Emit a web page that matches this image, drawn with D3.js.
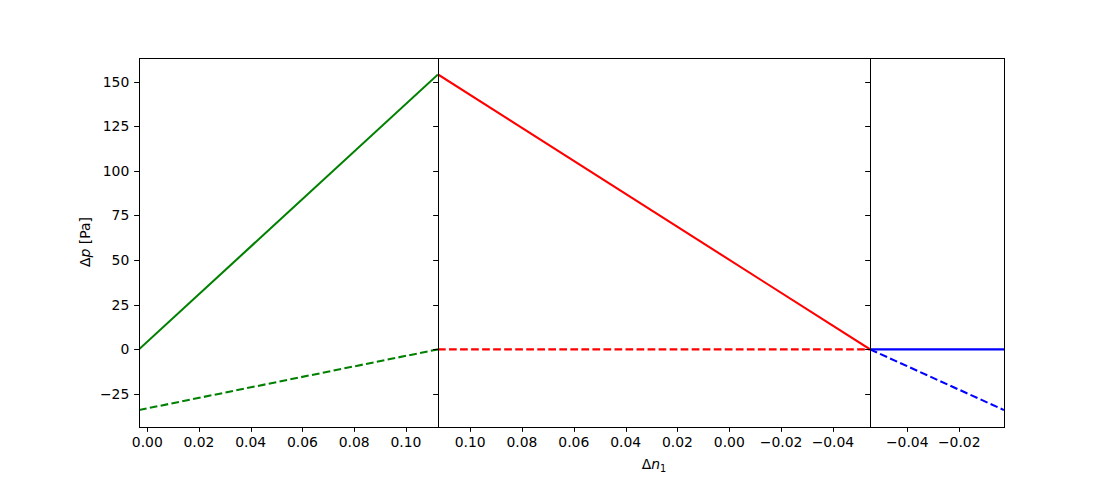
<!DOCTYPE html>
<html><head><meta charset="utf-8">
<script src="https://cdn.jsdelivr.net/npm/d3@7"></script>
<style>body{margin:0;background:#fff}svg{display:block}text{font-family:"DejaVu Sans",sans-serif;}</style>
</head><body>
<svg id="c" width="1115" height="480"></svg>
<script>
// ---- data ----
const yTicks = [-25, 0, 25, 50, 75, 100, 125, 150];
const yDomain = [-43.5, 163.2];

const panel1Domain = [-0.0032, 0.1124];
const panel2Domain = [0.1124, -0.0543];
const panel3Domain = [-0.0543, -0.0028];

const panel1Ticks = [0.00, 0.02, 0.04, 0.06, 0.08, 0.10];
const panel2Ticks = [0.10, 0.08, 0.06, 0.04, 0.02, 0.00, -0.02, -0.04];
const panel3Ticks = [-0.04, -0.02];

const greenX = [-0.0032, 0.1124];
const greenSolid = [0, 154];
const greenDashed = [-34, 0];

const redX = [0.1124, -0.0543];
const redSolid = [154, 0];
const redDashed = [0, 0];

const blueX = [-0.0543, -0.0028];
const blueSolid = [0, 0];
const blueDashed = [0, -34];

// ---- layout ----
const svg = d3.select("#c");
const plotTop = 58, plotBottom = 427;
const bounds = [[139, 438], [438, 870], [870, 1004]];
const y = d3.scaleLinear().domain(yDomain).range([plotBottom, plotTop]);
const fmt = d => d3.format(".2f")(d).replace("-", "\u2212");

const panels = [
  {dom: panel1Domain, ticks: panel1Ticks, series: [[greenX, greenSolid, "#008000", false], [greenX, greenDashed, "#008000", true]], ylabels: true},
  {dom: panel2Domain, ticks: panel2Ticks, series: [[redX, redSolid, "#ff0000", false], [redX, redDashed, "#ff0000", true]], ylabels: false},
  {dom: panel3Domain, ticks: panel3Ticks, series: [[blueX, blueSolid, "#0000ff", false], [blueX, blueDashed, "#0000ff", true]], ylabels: false}
];

const tickLen = 4.86, pad = 4.86, fs = 13.9;

panels.forEach((p, i) => {
  const [x0, x1] = bounds[i];
  const x = d3.scaleLinear().domain(p.dom).range([x0, x1]);
  const g = svg.append("g");
  const cid = "clip" + i;
  svg.append("defs").append("clipPath").attr("id", cid)
    .append("rect").attr("x", x0).attr("y", plotTop).attr("width", x1 - x0).attr("height", plotBottom - plotTop);
  const lg = g.append("g").attr("clip-path", `url(#${cid})`);
  p.series.forEach(([xs, ys, col, dashed]) => {
    const pts = xs.map((v, k) => [x(v), y(ys[k])]);
    lg.append("path").attr("d", d3.line()(pts)).attr("fill", "none")
      .attr("stroke", col).attr("stroke-width", 2.08)
      .attr("stroke-dasharray", dashed ? "7.7,3.33" : null);
  });
  g.append("rect").attr("x", x0 + 0.5).attr("y", plotTop + 0.5).attr("width", x1 - x0).attr("height", plotBottom - plotTop)
    .attr("fill", "none").attr("stroke", "#000").attr("stroke-width", 1);
  p.ticks.forEach(t => {
    const xx = Math.round(x(t)) + 0.5;
    g.append("line").attr("x1", xx).attr("x2", xx).attr("y1", plotBottom).attr("y2", plotBottom + tickLen)
      .attr("stroke", "#000").attr("stroke-width", 1);
    g.append("text").attr("x", x(t)).attr("y", plotBottom + tickLen + pad + fs * 0.76)
      .attr("text-anchor", "middle").attr("font-size", fs).text(fmt(t));
  });
  yTicks.forEach(t => {
    const yy = Math.round(y(t)) + 0.5;
    g.append("line").attr("x1", x0 - tickLen).attr("x2", x0).attr("y1", yy).attr("y2", yy)
      .attr("stroke", "#000").attr("stroke-width", 1);
    if (p.ylabels) {
      g.append("text").attr("x", x0 - tickLen - pad).attr("y", y(t)).attr("dy", "0.36em")
        .attr("text-anchor", "end").attr("font-size", fs).text(String(t).replace("-", "\u2212"));
    }
  });
});

const yl = svg.append("text").attr("transform", "translate(90,242) rotate(-90)")
  .attr("text-anchor", "middle").attr("font-size", fs);
yl.append("tspan").text("\u0394");
yl.append("tspan").attr("font-style", "italic").text("p");
yl.append("tspan").text(" [Pa]");

const xl = svg.append("text").attr("x", 654).attr("y", 469)
  .attr("text-anchor", "middle").attr("font-size", fs);
xl.append("tspan").text("\u0394");
xl.append("tspan").attr("font-style", "italic").text("n");
xl.append("tspan").attr("font-size", fs * 0.7).attr("dy", 3).text("1");
</script>
</body></html>
